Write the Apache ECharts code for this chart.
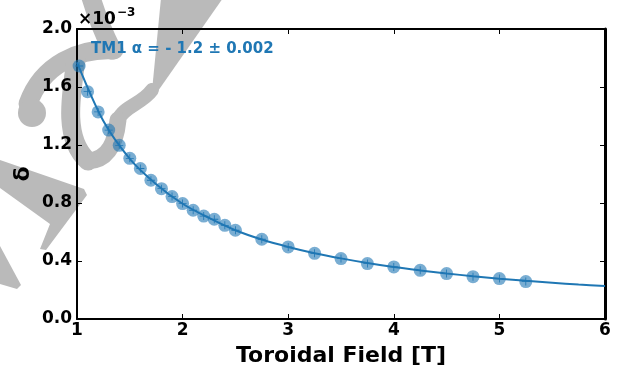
<!DOCTYPE html>
<html>
<head>
<meta charset="utf-8">
<script src="https://cdn.jsdelivr.net/npm/echarts@6/dist/echarts.min.js"></script>
<style>
  html, body { margin: 0; padding: 0; background: #ffffff; }
  #chart { width: 618px; height: 368px; }
</style>
</head>
<body>
<div id="chart"></div>
<script>
// Measured skin depth δ (units of 1e-3) against toroidal field (T)
const fieldT = [1.02, 1.1, 1.2, 1.3, 1.4, 1.5, 1.6, 1.7, 1.8, 1.9, 2.0, 2.1, 2.2, 2.3, 2.4, 2.5,
                2.75, 3.0, 3.25, 3.5, 3.75, 4.0, 4.25, 4.5, 4.75, 5.0, 5.25];
const deltaE3 = [1.745, 1.568, 1.428, 1.303, 1.198, 1.108, 1.038, 0.957, 0.899, 0.844, 0.796, 0.750,
                 0.710, 0.688, 0.646, 0.612, 0.550, 0.497, 0.453, 0.417, 0.382, 0.359, 0.336, 0.313,
                 0.292, 0.279, 0.258];

// Fitted curve samples, every 0.25 T
const fitFieldT = [1.0, 1.25, 1.5, 1.75, 2.0, 2.25, 2.5, 2.75, 3.0, 3.25, 3.5, 3.75, 4.0,
                   4.25, 4.5, 4.75, 5.0, 5.25, 5.5, 5.75, 6.0];
const fitDeltaE3 = [1.77, 1.365, 1.105, 0.93, 0.795, 0.697, 0.612, 0.548, 0.497, 0.454, 0.418,
                    0.386, 0.358, 0.335, 0.314, 0.295, 0.278, 0.263, 0.250, 0.238, 0.228];

// Axis ranges and ticks
const xTicks = [1, 2, 3, 4, 5, 6];
const yTicks = [0.0, 0.4, 0.8, 1.2, 1.6, 2.0];

const fitLabel = 'TM1 α = - 1.2 ± 0.002';
const xTitle = 'Toroidal Field [T]';
const yTitle = 'δ';

const BLUE = '#1f77b4';
const FONT = 'DejaVu Sans';
const GRAY = '#bababa';

const chart = echarts.init(document.getElementById('chart'), null, { renderer: 'canvas' });

const tickLabel = {
  fontFamily: FONT, fontWeight: 'bold', fontSize: 17, color: '#000'
};

function axisBase(ticks, showLabels, isX, lineWidth) {
  return {
    type: 'value',
    min: ticks[0],
    max: ticks[ticks.length - 1],
    interval: ticks[1] - ticks[0],
    axisLine: { show: true, onZero: false, lineStyle: { color: '#000', width: lineWidth } },
    axisTick: { show: true, inside: true, length: 5, lineStyle: { color: '#000', width: 1 } },
    splitLine: { show: false },
    axisLabel: Object.assign({
      show: showLabels,
      showMinLabel: true,
      showMaxLabel: true,
      margin: isX ? 3 : 5,
      formatter: v => isX ? String(Math.round(v)) : v.toFixed(1)
    }, tickLabel)
  };
}

// Scatter markers: translucent disc plus a small cross
const plusSymbol = 'path://M4.5,0H5.5V10H4.5Z M0,4.5H10V5.5H0Z';
const points = fieldT.map((x, i) => [x, deltaE3[i]]);
const fitLine = fitFieldT.map((x, i) => [x, fitDeltaE3[i]]);

// Decorative grey glyph behind the plot
function curve(x1, y1, c1x, c1y, c2x, c2y, x2, y2, w) {
  return {
    type: 'bezierCurve', z: -10, silent: true,
    shape: { x1: x1, y1: y1, cpx1: c1x, cpy1: c1y, cpx2: c2x, cpy2: c2y, x2: x2, y2: y2 },
    style: { fill: null, stroke: GRAY, lineWidth: w, lineCap: 'round' }
  };
}
function poly(pts) {
  return { type: 'polygon', z: -10, silent: true, shape: { points: pts }, style: { fill: GRAY } };
}
const glyph = [
  poly([[161, -2], [223, -2], [158, 91], [152, 91]]),
  poly([[0, 160], [84, 189], [87, 195], [46, 250], [40, 249], [50, 224], [0, 188]]),
  poly([[0, 246], [21, 285], [17, 289], [0, 284]]),
  curve(90, -6, 96, 15, 104, 34, 112, 50, 19),
  curve(114, 50, 80, 48, 42, 64, 28, 104, 19),
  { type: 'circle', z: -10, silent: true, shape: { cx: 32, cy: 113, r: 14 }, style: { fill: GRAY } },
  curve(152, 90, 142, 104, 124, 106, 118, 120, 14),
  curve(118, 120, 116, 140, 110, 160, 88, 161, 17),
  curve(76, 60, 70, 100, 64, 140, 88, 161, 19)
];

const option = {
  backgroundColor: '#ffffff',
  animation: false,
  grid: { left: 77, top: 29, width: 528, height: 290, containLabel: false },
  xAxis: [
    Object.assign(axisBase(xTicks, true, true, 2), { position: 'bottom' }),
    Object.assign(axisBase(xTicks, false, true, 2), { position: 'top' })
  ],
  yAxis: [
    Object.assign(axisBase(yTicks, true, false, 2), { position: 'left' }),
    Object.assign(axisBase(yTicks, false, false, 3), { position: 'right' })
  ],
  graphic: glyph.concat([
    {
      type: 'text', left: 78, top: 11, z: 10,
      style: { text: '×10', fontFamily: FONT, fontWeight: 'bold', fontSize: 17, fill: '#000' }
    },
    {
      type: 'text', left: 117, top: 7, z: 10,
      style: { text: '−3', fontFamily: FONT, fontWeight: 'bold', fontSize: 12, fill: '#000' }
    },
    {
      type: 'text', left: 91, top: 42, z: 10,
      style: { text: fitLabel, fontFamily: FONT, fontWeight: 'bold', fontSize: 15, fill: BLUE }
    },
    {
      type: 'text', x: 341, y: 356, z: 10,
      style: { text: xTitle, fontFamily: FONT, fontWeight: 'bold', fontSize: 22, fill: '#000',
               align: 'center', verticalAlign: 'middle' }
    },
    {
      type: 'text', x: 23, y: 174, rotation: Math.PI / 2, z: 10,
      style: { text: yTitle, fontFamily: FONT, fontWeight: 'bold', fontSize: 22, fill: '#000',
               align: 'center', verticalAlign: 'middle' }
    }
  ]),
  series: [
    {
      type: 'line',
      data: fitLine,
      smooth: 0.3,
      showSymbol: false,
      lineStyle: { color: BLUE, width: 2 },
      z: 2
    },
    {
      type: 'scatter',
      data: points,
      symbol: 'circle',
      symbolSize: 13,
      itemStyle: { color: BLUE, opacity: 0.6 },
      z: 3
    },
    {
      type: 'scatter',
      data: points,
      symbol: plusSymbol,
      symbolSize: 8,
      itemStyle: { color: BLUE, opacity: 1 },
      z: 4
    }
  ]
};

chart.setOption(option);
</script>
</body>
</html>
